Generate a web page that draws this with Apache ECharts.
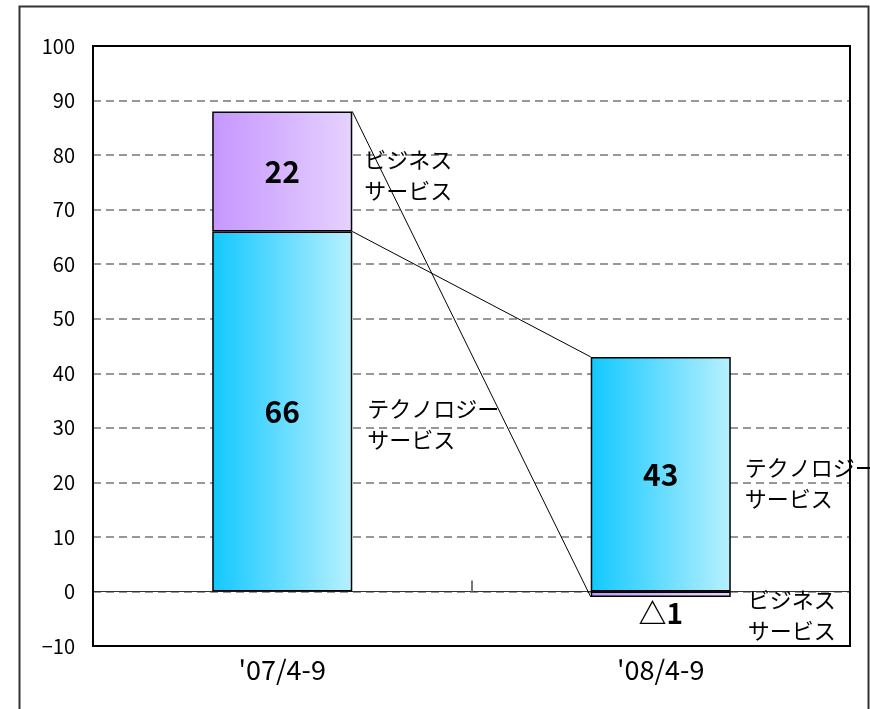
<!DOCTYPE html>
<html>
<head>
<meta charset="utf-8">
<script src="https://cdn.jsdelivr.net/npm/echarts@6/dist/echarts.min.js"></script>
<style>
  html, body { margin: 0; padding: 0; background: #fff; }
  #chart { width: 870px; height: 709px; }
</style>
</head>
<body>
<div id="chart"></div>
<script>
// data
var periods = ["'07/4-9", "'08/4-9"];
var techValues = [66, 43];
var bizValues = [22, -1];
var techName = 'テクノロジー\nサービス';
var bizName = 'ビジネス\nサービス';
var yTicks = { min: -10, max: 100, step: 10 };

var FONT = '"Noto Sans CJK JP", "Noto Sans", sans-serif';
var BAR_W = 0.37;   // bar width as a share of the category band
// px shift [dx, dy] for side names: '07 biz, '07 tech, '08 biz, '08 tech
var nameShift = [[12, 4], [15, 13], [17, 21], [14, 9]];

function fmtNum(v) {
  return v < 0 ? '△' + Math.abs(v) : String(v);
}

// where each stacked segment ends (negative values stack below zero)
function segEnds(i) {
  var t = techValues[i], b = bizValues[i];
  return { techEnd: t, bizStart: b >= 0 ? t : 0, bizEnd: b >= 0 ? t + b : b };
}

var connectors = [];
var e0 = segEnds(0), e1 = segEnds(1);
connectors.push([0, e0.bizEnd, 1, e1.bizEnd]);
connectors.push([0, e0.techEnd, 1, e1.techEnd]);

var sideNames = [];
for (var i = 0; i < periods.length; i++) {
  var e = segEnds(i);
  sideNames.push([i, (e.bizStart + e.bizEnd) / 2, bizName]);
  sideNames.push([i, e.techEnd / 2, techName]);
}

function grad(c0, c1) {
  return { type: 'linear', x: 0, y: 0, x2: 1, y2: 0,
    colorStops: [{ offset: 0, color: c0 }, { offset: 1, color: c1 }] };
}

var chart = echarts.init(document.getElementById('chart'));

var option = {
  animation: false,
  backgroundColor: '#fff',
  textStyle: { fontFamily: FONT },
  grid: {
    left: 93, top: 46, right: 20, bottom: 63, z: 1,
    show: true, borderColor: '#000', borderWidth: 2, backgroundColor: 'transparent'
  },
  graphic: [{
    type: 'rect', left: 17, top: 4, z: -1,
    shape: { width: 849, height: 720 },
    style: { fill: 'none', stroke: '#333', lineWidth: 2 }
  }],
  xAxis: [{
    type: 'category', data: periods, position: 'bottom',
    axisLine: { show: false, onZero: false },
    axisTick: { show: false },
    axisLabel: { color: '#000', fontSize: 27, margin: 10, fontFamily: FONT }
  }, {
    type: 'category', data: periods, position: 'bottom', z: 0,
    axisLine: { show: true, onZero: true, lineStyle: { color: '#333', width: 1 } },
    axisTick: { show: true, inside: true, length: 11, lineStyle: { color: '#777', width: 2 } },
    axisLabel: { show: false }
  }],
  yAxis: {
    type: 'value', min: yTicks.min, max: yTicks.max, interval: yTicks.step,
    axisLine: { show: false },
    axisTick: { show: false },
    axisLabel: {
      color: '#000', fontSize: 20, margin: 18, fontFamily: FONT,
      formatter: function (v) { return v < 0 ? '−' + Math.abs(v) : v; }
    },
    splitLine: {
      showMinLine: false, showMaxLine: false,
      lineStyle: { color: '#777', width: 1.5, type: [8, 5] }
    }
  },
  series: [{
    name: 'テクノロジーサービス', type: 'bar', stack: 'total', xAxisIndex: 0,
    barWidth: (BAR_W * 100) + '%',
    data: techValues,
    itemStyle: { color: grad('#12c8ff', '#b8f0ff'), borderColor: '#000', borderWidth: 1.5 },
    label: {
      show: true, position: 'inside', color: '#000', fontSize: 30, fontWeight: 'bold',
      fontFamily: FONT, formatter: function (p) { return fmtNum(p.value); }
    },
    z: 3
  }, {
    name: 'ビジネスサービス', type: 'bar', stack: 'total', xAxisIndex: 0,
    barWidth: (BAR_W * 100) + '%',
    data: bizValues.map(function (v) {
      if (v >= 0) return v;
      return { value: v, label: { position: 'bottom', distance: 2, fontSize: 28 } };
    }),
    itemStyle: { color: grad('#c596ff', '#e6d2ff'), borderColor: '#000', borderWidth: 1.5 },
    label: {
      show: true, position: 'inside', color: '#000', fontSize: 30, fontWeight: 'bold',
      fontFamily: FONT, formatter: function (p) { return fmtNum(p.value); }
    },
    z: 3
  }, {
    type: 'custom', xAxisIndex: 0, z: 4, silent: true,
    data: connectors,
    renderItem: function (params, api) {
      var half = api.size([1, 0])[0] * BAR_W / 2;
      var a = api.coord([api.value(0), api.value(1)]);
      var b = api.coord([api.value(2), api.value(3)]);
      return {
        type: 'line',
        shape: { x1: a[0] + half, y1: a[1], x2: b[0] - half, y2: b[1] },
        style: { stroke: '#000', lineWidth: 1 }
      };
    }
  }, {
    type: 'custom', xAxisIndex: 0, z: 5, silent: true, clip: false,
    data: sideNames,
    renderItem: function (params, api) {
      var half = api.size([1, 0])[0] * BAR_W / 2;
      var p = api.coord([api.value(0), api.value(1)]);
      var sh = nameShift[params.dataIndex];
      return {
        type: 'text',
        x: p[0] + half + sh[0], y: p[1] + sh[1],
        style: {
          text: sideNames[params.dataIndex][2],
          fill: '#000', font: '22px ' + FONT, lineHeight: 31,
          verticalAlign: 'middle', align: 'left'
        }
      };
    }
  }]
};

chart.setOption(option);
</script>
</body>
</html>
